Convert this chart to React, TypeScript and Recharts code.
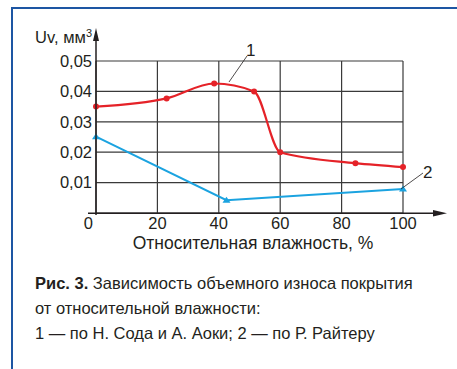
import React from "react";
import { LineChart, Line, XAxis, YAxis, CartesianGrid } from "recharts";

// curve 1 - H. Soda & A. Aoki
const sodaHumidity = [0, 23, 38.5, 51.5, 60, 84.5, 100];
const sodaWear = [0.035, 0.0377, 0.0426, 0.04, 0.02, 0.0164, 0.0151];
// curve 2 - R. Reiter
const reiterHumidity = [0, 42.5, 100];
const reiterWear = [0.0251, 0.0042, 0.0079];

const xTicks = [0, 20, 40, 60, 80, 100];
const yTicks = [0.01, 0.02, 0.03, 0.04, 0.05];

const sodaData = sodaHumidity.map((x, i) => ({ x, y: sodaWear[i] }));
const reiterData = reiterHumidity.map((x, i) => ({ x, y: reiterWear[i] }));

const FONT = "'Liberation Sans', Arial, sans-serif";
const INK = "#231f20";
const RED = "#e52228";
const BLUE = "#1ba3e0";

const XTick = (props: any) => {
  const { x, y, payload } = props;
  const first = payload.value === 0;
  return (
    <text
      x={first ? x - 3 : x}
      y={y}
      dy="0.71em"
      textAnchor={first ? "end" : "middle"}
      fontSize={16.5}
      fontFamily={FONT}
      fill={INK}
    >
      {payload.value}
    </text>
  );
};

const YTick = (props: any) => {
  const { x, y, payload } = props;
  return (
    <text x={x} y={y} dy="0.355em" textAnchor="end" fontSize={16.5} fontFamily={FONT} fill={INK}>
      {payload.value.toFixed(2).replace(".", ",")}
    </text>
  );
};

const Triangle = (props: any) => {
  const { cx, cy } = props;
  if (cx == null || cy == null) return null;
  return <polygon points={`${cx},${cy - 3.5} ${cx - 4},${cy + 2.5} ${cx + 4},${cy + 2.5}`} fill={BLUE} />;
};

export default function App() {
  return (
    <div
      style={{
        position: "absolute",
        left: 0,
        top: 0,
        width: 457,
        height: 369,
        background: "#fff",
        overflow: "hidden",
      }}
    >
      <div
        style={{
          position: "absolute",
          left: 11,
          top: 7,
          width: 460,
          height: 380,
          borderLeft: "2px solid #1d56a3",
          borderTop: "2px solid #1d56a3",
        }}
      />
      <div style={{ position: "absolute", left: 0, top: 0 }}>
        <LineChart width={457} height={260} margin={{ top: 61, right: 54, left: 40, bottom: 17 }}>
          <CartesianGrid stroke="#3a3a3a" strokeWidth={1.2} />
          <XAxis
            dataKey="x"
            type="number"
            domain={[0, 100]}
            ticks={xTicks}
            axisLine={false}
            tickLine={false}
            tickSize={0}
            tickMargin={4}
            height={30}
            tick={<XTick />}
            allowDuplicatedCategory={false}
          />
          <YAxis
            type="number"
            domain={[0, 0.05]}
            ticks={yTicks}
            axisLine={false}
            tickLine={false}
            tickSize={0}
            tickMargin={4}
            width={56}
            tick={<YTick />}
          />
          <Line
            data={sodaData}
            dataKey="y"
            type="monotone"
            stroke={RED}
            strokeWidth={2.2}
            dot={{ r: 3, fill: RED, stroke: RED, strokeWidth: 0 }}
            isAnimationActive={false}
          />
          <Line
            data={reiterData}
            dataKey="y"
            type="linear"
            stroke={BLUE}
            strokeWidth={2}
            dot={<Triangle />}
            isAnimationActive={false}
          />
        </LineChart>
      </div>
      <svg
        width={457}
        height={260}
        style={{ position: "absolute", left: 0, top: 0, pointerEvents: "none" }}
        fontFamily={FONT}
      >
        {/* axes with arrows */}
        <line x1={96} y1={215} x2={96} y2={36} stroke={INK} strokeWidth={1.5} />
        <polygon points="96,28 93,41 99,41" fill={INK} />
        <line x1={88} y1={213.3} x2={436} y2={213.3} stroke={INK} strokeWidth={1.5} />
        <polygon points="447,213.3 433,210 433,216.6" fill={INK} />
        <text x={92} y={43} textAnchor="end" fontSize={16.5} fill={INK}>
          Uv, мм
          <tspan fontSize={11} dy={-6}>
            3
          </tspan>
        </text>
        <text x={253} y={249} textAnchor="middle" fontSize={17.5} fill={INK}>
          Относительная влажность, %
        </text>
        {/* curve labels */}
        <line x1={229} y1={82} x2={247} y2={56} stroke={INK} strokeWidth={0.8} />
        <text x={246} y={56} fontSize={17} fill={INK}>
          1
        </text>
        <line x1={401} y1={189} x2={423} y2={173} stroke={INK} strokeWidth={0.8} />
        <text x={423} y={178} fontSize={17} fill={INK}>
          2
        </text>
      </svg>
      <div
        style={{
          position: "absolute",
          left: 35,
          top: 271,
          fontFamily: FONT,
          fontSize: 16.5,
          color: INK,
          lineHeight: "25px",
          whiteSpace: "nowrap",
        }}
      >
        <div>
          <b>Рис. 3.</b> Зависимость объемного износа покрытия
        </div>
        <div>от относительной влажности:</div>
        <div>1 — по Н. Сода и А. Аоки; 2 — по Р. Райтеру</div>
      </div>
    </div>
  );
}
